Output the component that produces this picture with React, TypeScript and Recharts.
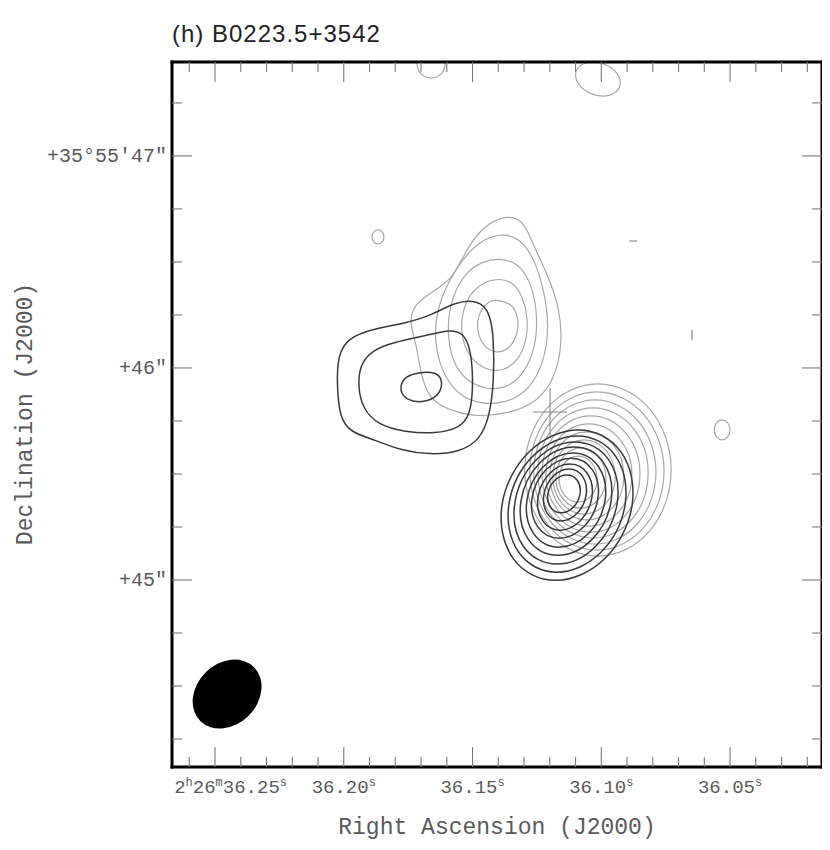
import { ComposedChart, Line, Scatter, XAxis, YAxis } from 'recharts'

// RA in seconds of 2h26m, Dec in arcsec of +35°55'
const raTicks = [
  36.26, 36.25, 36.24, 36.23, 36.22, 36.21, 36.2, 36.19, 36.18, 36.17, 36.16, 36.15, 36.14,
  36.13, 36.12, 36.11, 36.1, 36.09, 36.08, 36.07, 36.06, 36.05, 36.04, 36.03, 36.02,
]
const decTicks = [44.25, 44.5, 44.75, 45, 45.25, 45.5, 45.75, 46, 46.25, 46.5, 46.75, 47, 47.25]

// light contours, northern component
const grayNorthRings = [
  [[36.1393, 46.717], [36.1304, 46.708], [36.1269, 46.59], [36.1207, 46.438], [36.116, 46.274], [36.1152, 46.108], [36.118, 45.953], [36.1246, 45.84], [36.1362, 45.783], [36.1491, 45.769], [36.1595, 45.802], [36.1673, 45.858], [36.1704, 45.991], [36.1719, 46.118], [36.1743, 46.203], [36.1735, 46.288], [36.1665, 46.354], [36.1579, 46.415], [36.1529, 46.547], [36.1471, 46.651]],
  [[36.1393, 46.637], [36.1316, 46.613], [36.1261, 46.518], [36.1222, 46.368], [36.1203, 46.203], [36.1219, 46.038], [36.1277, 45.896], [36.1374, 45.83], [36.1491, 45.83], [36.1579, 45.896], [36.1634, 46.028], [36.165, 46.179], [36.1626, 46.33], [36.1557, 46.486], [36.1479, 46.595]],
  [[36.1393, 46.518], [36.1324, 46.495], [36.1273, 46.406], [36.125, 46.274], [36.125, 46.132], [36.1285, 46.0], [36.1354, 45.905], [36.1452, 45.896], [36.1541, 45.952], [36.1587, 46.061], [36.1599, 46.203], [36.1579, 46.34], [36.1526, 46.453], [36.1459, 46.504]],
  [[36.1401, 46.424], [36.1342, 46.406], [36.1304, 46.335], [36.1285, 46.235], [36.1289, 46.132], [36.132, 46.038], [36.1381, 45.982], [36.1452, 45.991], [36.151, 46.047], [36.1541, 46.132], [36.1545, 46.235], [36.1518, 46.34], [36.1463, 46.401]],
  [[36.1401, 46.321], [36.1354, 46.307], [36.1327, 46.26], [36.132, 46.193], [36.1335, 46.127], [36.137, 46.08], [36.1413, 46.071], [36.1455, 46.099], [36.1479, 46.156], [36.1483, 46.226], [36.1463, 46.283], [36.1436, 46.316]],
]

// dark contours, western component
const blackWestRings = [
  [[36.2023, 46.061], [36.1984, 46.141], [36.189, 46.184], [36.1755, 46.212], [36.1657, 46.25], [36.1568, 46.311], [36.1479, 46.321], [36.1432, 46.264], [36.1417, 46.132], [36.1417, 45.943], [36.1432, 45.778], [36.1471, 45.66], [36.1549, 45.604], [36.1665, 45.59], [36.1782, 45.613], [36.1879, 45.66], [36.1976, 45.698], [36.2015, 45.764], [36.2027, 45.92]],
  [[36.1937, 46.014], [36.189, 46.085], [36.1801, 46.123], [36.1685, 46.151], [36.1579, 46.184], [36.1526, 46.156], [36.1502, 46.052], [36.1498, 45.896], [36.151, 45.778], [36.1549, 45.717], [36.1646, 45.689], [36.1762, 45.698], [36.1867, 45.731], [36.1929, 45.811], [36.1945, 45.92]],
  [[36.1782, 45.92], [36.1759, 45.962], [36.1704, 45.981], [36.1642, 45.981], [36.1615, 45.943], [36.1626, 45.877], [36.1673, 45.84], [36.1735, 45.84], [36.1774, 45.868]],
]

// light contours, southern component
const graySouthRings = [
  [[36.0698, 45.519], [36.079, 45.201], [36.1013, 45.069], [36.1236, 45.201], [36.1328, 45.519], [36.1236, 45.837], [36.1013, 45.969], [36.079, 45.837]],
  [[36.0728, 45.514], [36.0813, 45.222], [36.1017, 45.1], [36.1221, 45.222], [36.1306, 45.514], [36.1221, 45.806], [36.1017, 45.928], [36.0813, 45.806]],
  [[36.0762, 45.509], [36.0839, 45.243], [36.1025, 45.132], [36.1211, 45.243], [36.1288, 45.509], [36.1211, 45.776], [36.1025, 45.886], [36.0839, 45.776]],
  [[36.0795, 45.505], [36.0864, 45.264], [36.1032, 45.165], [36.12, 45.264], [36.1269, 45.505], [36.12, 45.746], [36.1032, 45.845], [36.0864, 45.746]],
  [[36.0829, 45.5], [36.0891, 45.285], [36.104, 45.196], [36.1189, 45.285], [36.1251, 45.5], [36.1189, 45.715], [36.104, 45.804], [36.0891, 45.715]],
  [[36.0863, 45.495], [36.0917, 45.306], [36.1048, 45.228], [36.1179, 45.306], [36.1233, 45.495], [36.1179, 45.684], [36.1048, 45.762], [36.0917, 45.684]],
  [[36.0897, 45.491], [36.0943, 45.328], [36.1056, 45.261], [36.1169, 45.328], [36.1215, 45.491], [36.1169, 45.654], [36.1056, 45.721], [36.0943, 45.654]],
  [[36.0933, 45.486], [36.0972, 45.349], [36.1067, 45.292], [36.1162, 45.349], [36.1201, 45.486], [36.1162, 45.623], [36.1067, 45.68], [36.0972, 45.623]],
  [[36.0971, 45.481], [36.1003, 45.37], [36.1079, 45.324], [36.1155, 45.37], [36.1187, 45.481], [36.1155, 45.592], [36.1079, 45.638], [36.1003, 45.592]],
  [[36.1008, 45.476], [36.1032, 45.391], [36.109, 45.356], [36.1148, 45.391], [36.1172, 45.476], [36.1148, 45.561], [36.109, 45.596], [36.1032, 45.561]],
]

// dark contours, southern component
const blackSouthRings = [
  [[36.0853, 45.353], [36.0969, 45.075], [36.1182, 44.96], [36.1365, 45.075], [36.1413, 45.353], [36.1297, 45.631], [36.1084, 45.746], [36.0901, 45.631]],
  [[36.0883, 45.358], [36.0987, 45.106], [36.1177, 45.002], [36.1341, 45.106], [36.1383, 45.358], [36.1279, 45.61], [36.1089, 45.714], [36.0925, 45.61]],
  [[36.0917, 45.363], [36.1009, 45.137], [36.1176, 45.044], [36.1321, 45.137], [36.1357, 45.363], [36.1265, 45.589], [36.1098, 45.682], [36.0953, 45.589]],
  [[36.0943, 45.372], [36.1025, 45.172], [36.1172, 45.089], [36.1299, 45.172], [36.1331, 45.372], [36.1249, 45.572], [36.1102, 45.655], [36.0975, 45.572]],
  [[36.0969, 45.377], [36.1039, 45.203], [36.1167, 45.131], [36.1277, 45.203], [36.1305, 45.377], [36.1235, 45.551], [36.1107, 45.623], [36.0997, 45.551]],
  [[36.0999, 45.386], [36.1059, 45.238], [36.1167, 45.177], [36.1259, 45.238], [36.1283, 45.386], [36.1223, 45.534], [36.1115, 45.595], [36.1023, 45.534]],
  [[36.1025, 45.391], [36.1074, 45.269], [36.1162, 45.218], [36.1238, 45.269], [36.1257, 45.391], [36.1208, 45.513], [36.112, 45.564], [36.1044, 45.513]],
  [[36.105, 45.401], [36.1089, 45.305], [36.1158, 45.265], [36.1217, 45.305], [36.1232, 45.401], [36.1193, 45.497], [36.1124, 45.537], [36.1065, 45.497]],
  [[36.1076, 45.406], [36.1105, 45.336], [36.1157, 45.307], [36.1203, 45.336], [36.1214, 45.406], [36.1185, 45.476], [36.1133, 45.505], [36.1087, 45.476]],
]

// small noise islands
const faintRings = [
  [[36.1841, 46.618], [36.1849, 46.592], [36.1867, 46.581], [36.1885, 46.592], [36.1893, 46.618], [36.1885, 46.644], [36.1867, 46.655], [36.1849, 46.644]],
  [[36.1601, 47.434], [36.1618, 47.382], [36.1661, 47.361], [36.1704, 47.382], [36.1721, 47.434], [36.1704, 47.486], [36.1661, 47.507], [36.1618, 47.486]],
  [[36.092, 47.322], [36.0964, 47.278], [36.1037, 47.284], [36.1096, 47.336], [36.1106, 47.404], [36.1062, 47.448], [36.0989, 47.442], [36.093, 47.39]],
  [[36.0497, 45.708], [36.0507, 45.671], [36.0531, 45.656], [36.0555, 45.671], [36.0565, 45.708], [36.0555, 45.745], [36.0531, 45.76], [36.0507, 45.745]],
]
const faintDashes = [
  [[36.0892, 46.599], [36.0861, 46.599]],
  [[36.0648, 46.179], [36.0648, 46.132]],
]
const crossArms = [
  [[36.1265, 45.792], [36.1133, 45.792]],
  [[36.1199, 45.906], [36.1199, 45.679]],
]
const beamCenter = [{ x: 36.2453, y: 44.462 }]

const RA_DOMAIN = [36.0143, 36.2667]
const DEC_DOMAIN = [44.118, 47.443]

const W = 822
const H = 834
const GRAY = '#a8a8a8'
const DARK = '#3a3a3a'
const TICK = '#7a7a7a'
const TXT = '#5a5a5a'
const MONO = "'Liberation Mono', 'DejaVu Sans Mono', monospace"

const toPts = (ring: number[][]) => ring.map(([x, y]) => ({ x, y }))
const isMajorRa = (v: number) => Math.abs(v * 20 - Math.round(v * 20)) < 1e-6
const isMajorDec = (v: number) => Math.abs(v - Math.round(v)) < 1e-6

function BottomTick({ x, y, payload }: any) {
  const v = payload.value
  const major = isMajorRa(v)
  const len = major ? 20 : 10
  const s = v.toFixed(2)
  const first = Math.abs(v - 36.25) < 1e-6
  return (
    <g>
      <line x1={x} x2={x} y1={y} y2={y - len} stroke={TICK} strokeWidth={1.1} />
      {major && (
        <text
          x={first ? x + 72 : x}
          y={y + 26}
          textAnchor={first ? 'end' : 'middle'}
          fontFamily={MONO}
          fontSize={19}
          fill={TXT}
        >
          {first && (
            <>
              <tspan>2</tspan>
              <tspan dy={-7} fontSize={12}>h</tspan>
              <tspan dy={7}>26</tspan>
              <tspan dy={-7} fontSize={12}>m</tspan>
              <tspan dy={7}>{s}</tspan>
            </>
          )}
          {!first && <tspan>{s}</tspan>}
          <tspan dy={-7} fontSize={12}>s</tspan>
        </text>
      )}
    </g>
  )
}

function TopTick({ x, y, payload }: any) {
  const len = isMajorRa(payload.value) ? 20 : 10
  return <line x1={x} x2={x} y1={y} y2={y + len} stroke={TICK} strokeWidth={1.1} />
}

function LeftTick({ x, y, payload }: any) {
  const v = payload.value
  const major = isMajorDec(v)
  const len = major ? 20 : 10
  const label = Math.round(v) === 47 ? '+35°55′47″' : `+${Math.round(v)}″`
  return (
    <g>
      <line x1={x} x2={x + len} y1={y} y2={y} stroke={TICK} strokeWidth={1.1} />
      {major && (
        <text x={x - 5} y={y} dy={6} textAnchor="end" fontFamily={MONO} fontSize={20} fill={TXT}>
          {label}
        </text>
      )}
    </g>
  )
}

function RightTick({ x, y, payload }: any) {
  const len = isMajorDec(payload.value) ? 20 : 10
  return <line x1={x} x2={x - len} y1={y} y2={y} stroke={TICK} strokeWidth={1.1} />
}

function Beam({ cx, cy }: any) {
  return <ellipse cx={cx} cy={cy} rx={38} ry={30.5} transform={`rotate(-45 ${cx} ${cy})`} fill="#000" />
}

const frame = { stroke: '#000', strokeWidth: 3, strokeLinecap: 'square' as const }

function contour(ring: number[][], key: string, color: string, width: number, closed = true) {
  return (
    <Line
      key={key}
      data={toPts(ring)}
      dataKey="y"
      xAxisId="b"
      yAxisId="l"
      type={closed ? 'basisClosed' : 'linear'}
      stroke={color}
      strokeWidth={width}
      dot={false}
      activeDot={false}
      isAnimationActive={false}
    />
  )
}

export default function App() {
  return (
    <div style={{ position: 'relative', width: W, height: H }}>
      <ComposedChart width={W} height={H} margin={{ top: 0, right: 0, bottom: 0, left: 0 }}>
        <XAxis
          xAxisId="b"
          type="number"
          dataKey="x"
          domain={RA_DOMAIN}
          allowDataOverflow
          reversed
          ticks={raTicks}
          interval={0}
          height={75}
          tickSize={0}
          tickMargin={0}
          tickLine={false}
          axisLine={frame}
          tick={<BottomTick />}
        />
        <XAxis
          xAxisId="t"
          orientation="top"
          type="number"
          dataKey="x"
          domain={RA_DOMAIN}
          allowDataOverflow
          reversed
          ticks={raTicks}
          interval={0}
          height={54}
          tickSize={0}
          tickMargin={0}
          tickLine={false}
          axisLine={frame}
          tick={<TopTick />}
        />
        <YAxis
          yAxisId="l"
          type="number"
          dataKey="y"
          domain={DEC_DOMAIN}
          allowDataOverflow
          ticks={decTicks}
          interval={0}
          width={164}
          tickSize={0}
          tickMargin={0}
          tickLine={false}
          axisLine={frame}
          tick={<LeftTick />}
        />
        <YAxis
          yAxisId="r"
          orientation="right"
          type="number"
          dataKey="y"
          domain={DEC_DOMAIN}
          allowDataOverflow
          ticks={decTicks}
          interval={0}
          width={8}
          tickSize={0}
          tickMargin={0}
          tickLine={false}
          axisLine={frame}
          tick={<RightTick />}
        />
        {faintRings.map((r, i) => contour(r, 'fr' + i, GRAY, 1.2))}
        {faintDashes.map((r, i) => contour(r, 'fd' + i, GRAY, 1.6, false))}
        {grayNorthRings.map((r, i) => contour(r, 'gn' + i, GRAY, 1.2))}
        {graySouthRings.map((r, i) => contour(r, 'gs' + i, GRAY, 1.2))}
        {crossArms.map((r, i) => contour(r, 'cx' + i, '#8a8a8a', 1.1, false))}
        {blackWestRings.map((r, i) => contour(r, 'bw' + i, DARK, 1.5))}
        {blackSouthRings.map((r, i) => contour(r, 'bs' + i, DARK, 1.5))}
        <Scatter
          data={beamCenter}
          dataKey="y"
          xAxisId="b"
          yAxisId="l"
          shape={<Beam />}
          isAnimationActive={false}
        />
      </ComposedChart>
      <svg
        width={W}
        height={H}
        style={{ position: 'absolute', left: 0, top: 0, pointerEvents: 'none' }}
      >
        <text x={164} y={34} fontFamily="'Liberation Sans', Arial, sans-serif" fontSize={24} letterSpacing={1} fill="#222">
          (h) B0223.5+3542
        </text>
        <text x={489} y={826} textAnchor="middle" fontFamily={MONO} fontSize={23} fill={TXT}>
          Right Ascension (J2000)
        </text>
        <text
          x={24}
          y={406}
          textAnchor="middle"
          transform="rotate(-90 24 406)"
          fontFamily={MONO}
          fontSize={23}
          fill={TXT}
        >
          Declination (J2000)
        </text>
      </svg>
    </div>
  )
}
